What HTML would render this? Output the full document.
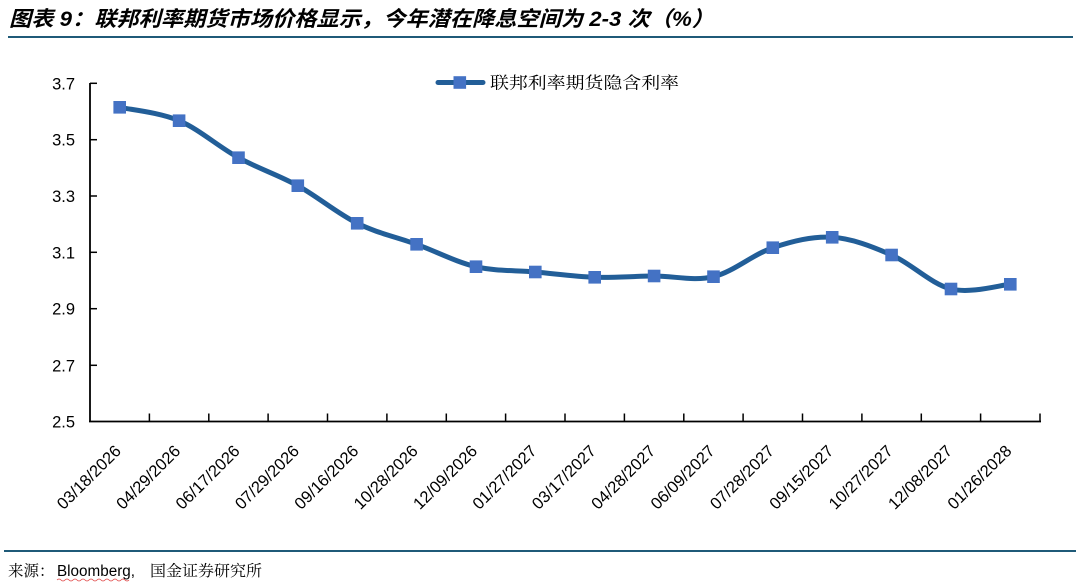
<!DOCTYPE html>
<html>
<head>
<meta charset="utf-8">
<style>
  html,body{margin:0;padding:0;background:#fff;}
  svg{display:block;}
</style>
</head>
<body>
<svg width="1080" height="588" viewBox="0 0 1080 588" xmlns="http://www.w3.org/2000/svg">
  <!-- Title -->
  <text x="9" y="26" font-family="'Liberation Sans','Noto Sans CJK SC',sans-serif" font-size="21" font-weight="bold" font-style="italic" fill="#000" textLength="705" lengthAdjust="spacingAndGlyphs">图表 9：联邦利率期货市场价格显示，今年潜在降息空间为 2-3 次（%）</text>
  <line x1="8" y1="37" x2="1073" y2="37" stroke="#1f5a78" stroke-width="2"/>

  <!-- Axes -->
  <line x1="90" y1="83" x2="90" y2="422" stroke="#000" stroke-width="1.8"/>
  <line x1="89" y1="421.5" x2="1041" y2="421.5" stroke="#000" stroke-width="1.8"/>
  <!-- y ticks -->
  <g stroke="#000" stroke-width="1.5">
    <line x1="90" y1="83.3" x2="97" y2="83.3"/>
    <line x1="90" y1="139.7" x2="97" y2="139.7"/>
    <line x1="90" y1="196" x2="97" y2="196"/>
    <line x1="90" y1="252.3" x2="97" y2="252.3"/>
    <line x1="90" y1="308.7" x2="97" y2="308.7"/>
    <line x1="90" y1="365.3" x2="97" y2="365.3"/>
  </g>
  <!-- x ticks -->
  <g stroke="#000" stroke-width="1.5">
    <line x1="149.4" y1="421.5" x2="149.4" y2="413.5"/>
    <line x1="208.8" y1="421.5" x2="208.8" y2="413.5"/>
    <line x1="268.1" y1="421.5" x2="268.1" y2="413.5"/>
    <line x1="327.5" y1="421.5" x2="327.5" y2="413.5"/>
    <line x1="386.9" y1="421.5" x2="386.9" y2="413.5"/>
    <line x1="446.3" y1="421.5" x2="446.3" y2="413.5"/>
    <line x1="505.6" y1="421.5" x2="505.6" y2="413.5"/>
    <line x1="565" y1="421.5" x2="565" y2="413.5"/>
    <line x1="624.4" y1="421.5" x2="624.4" y2="413.5"/>
    <line x1="683.8" y1="421.5" x2="683.8" y2="413.5"/>
    <line x1="743.1" y1="421.5" x2="743.1" y2="413.5"/>
    <line x1="802.5" y1="421.5" x2="802.5" y2="413.5"/>
    <line x1="861.9" y1="421.5" x2="861.9" y2="413.5"/>
    <line x1="921.3" y1="421.5" x2="921.3" y2="413.5"/>
    <line x1="980.6" y1="421.5" x2="980.6" y2="413.5"/>
    <line x1="1040" y1="421.5" x2="1040" y2="413.5"/>
  </g>

  <!-- y labels -->
  <g font-family="'Liberation Sans',sans-serif" font-size="16.5" fill="#000" text-anchor="end">
    <text x="75" y="89.3">3.7</text>
    <text x="75" y="145.7">3.5</text>
    <text x="75" y="202">3.3</text>
    <text x="75" y="258.3">3.1</text>
    <text x="75" y="314.7">2.9</text>
    <text x="75" y="371.3">2.7</text>
    <text x="75" y="427.3">2.5</text>
  </g>

  <!-- x labels -->
  <g font-family="'Liberation Sans',sans-serif" font-size="16.5" fill="#000" text-anchor="end">
    <text transform="translate(122,452) rotate(-45)">03/18/2026</text>
    <text transform="translate(181.4,452) rotate(-45)">04/29/2026</text>
    <text transform="translate(240.8,452) rotate(-45)">06/17/2026</text>
    <text transform="translate(300.1,452) rotate(-45)">07/29/2026</text>
    <text transform="translate(359.5,452) rotate(-45)">09/16/2026</text>
    <text transform="translate(418.9,452) rotate(-45)">10/28/2026</text>
    <text transform="translate(478.3,452) rotate(-45)">12/09/2026</text>
    <text transform="translate(537.6,452) rotate(-45)">01/27/2027</text>
    <text transform="translate(597,452) rotate(-45)">03/17/2027</text>
    <text transform="translate(656.4,452) rotate(-45)">04/28/2027</text>
    <text transform="translate(715.8,452) rotate(-45)">06/09/2027</text>
    <text transform="translate(775.1,452) rotate(-45)">07/28/2027</text>
    <text transform="translate(834.5,452) rotate(-45)">09/15/2027</text>
    <text transform="translate(893.9,452) rotate(-45)">10/27/2027</text>
    <text transform="translate(953.3,452) rotate(-45)">12/08/2027</text>
    <text transform="translate(1012.6,452) rotate(-45)">01/26/2028</text>
  </g>

  <!-- Series line -->
  <path fill="none" stroke="#225e98" stroke-width="5" stroke-linejoin="round" stroke-linecap="round"
    d="M119.7,107.3
       C129.6,109.53 159.31,112.3 179.1,120.7
       C198.89,129.1 218.71,146.87 238.5,157.7
       C258.29,168.53 278.01,174.77 297.8,185.7
       C317.59,196.63 337.41,213.53 357.2,223.3
       C376.99,233.07 396.81,237.07 416.6,244.3
       C436.39,251.53 456.21,262.08 476,266.7
       C495.79,271.32 515.51,270.23 535.3,272
       C555.09,273.77 574.91,276.63 594.7,277.3
       C614.49,277.97 634.31,276.1 654.1,276
       C673.89,275.9 693.71,281.42 713.5,276.7
       C733.29,271.98 753.01,254.27 772.8,247.7
       C792.59,241.13 812.41,236.08 832.2,237.3
       C851.99,238.52 871.81,246.38 891.6,255
       C911.39,263.62 931.21,284.12 951,289
       C970.79,293.88 1000.4,285.08 1010.3,284.3"/>

  <!-- Markers -->
  <g fill="#4472c4">
    <rect x="113.4" y="101" width="12.6" height="12.6"/>
    <rect x="172.8" y="114.4" width="12.6" height="12.6"/>
    <rect x="232.2" y="151.4" width="12.6" height="12.6"/>
    <rect x="291.5" y="179.4" width="12.6" height="12.6"/>
    <rect x="350.9" y="217" width="12.6" height="12.6"/>
    <rect x="410.3" y="238" width="12.6" height="12.6"/>
    <rect x="469.7" y="260.4" width="12.6" height="12.6"/>
    <rect x="529" y="265.7" width="12.6" height="12.6"/>
    <rect x="588.4" y="271" width="12.6" height="12.6"/>
    <rect x="647.8" y="269.7" width="12.6" height="12.6"/>
    <rect x="707.2" y="270.4" width="12.6" height="12.6"/>
    <rect x="766.5" y="241.4" width="12.6" height="12.6"/>
    <rect x="825.9" y="231" width="12.6" height="12.6"/>
    <rect x="885.3" y="248.7" width="12.6" height="12.6"/>
    <rect x="944.7" y="282.7" width="12.6" height="12.6"/>
    <rect x="1004" y="278" width="12.6" height="12.6"/>
  </g>

  <!-- Legend -->
  <line x1="438" y1="82.5" x2="483" y2="82.5" stroke="#225e98" stroke-width="5" stroke-linecap="round"/>
  <rect x="453.5" y="76.2" width="12.6" height="12.6" fill="#4472c4"/>
  <text x="490" y="88.5" font-family="'Liberation Serif','Noto Serif CJK SC',serif" font-size="16.5" fill="#000" textLength="189" lengthAdjust="spacingAndGlyphs">联邦利率期货隐含利率</text>

  <!-- Bottom line & source -->
  <line x1="4" y1="551" x2="1076" y2="551" stroke="#1f5a78" stroke-width="2"/>
  <g font-size="15.5" fill="#000">
    <text x="8" y="576" font-family="'Liberation Serif','Noto Serif CJK SC',serif">来源：</text>
    <text x="57" y="576" font-family="'Liberation Sans',sans-serif" textLength="78" lengthAdjust="spacingAndGlyphs">Bloomberg,</text>
    <text x="150" y="576" font-family="'Liberation Serif','Noto Serif CJK SC',serif" textLength="112" lengthAdjust="spacingAndGlyphs">国金证券研究所</text>
  </g>
  <path d="M57,580 q2,-2 4,0 t4,0 t4,0 t4,0 t4,0 t4,0 t4,0 t4,0 t4,0 t4,0 t4,0 t4,0 t4,0 t4,0 t4,0 t4,0 t4,0 t4,0" fill="none" stroke="#e04848" stroke-width="0.8"/>
</svg>
</body>
</html>
